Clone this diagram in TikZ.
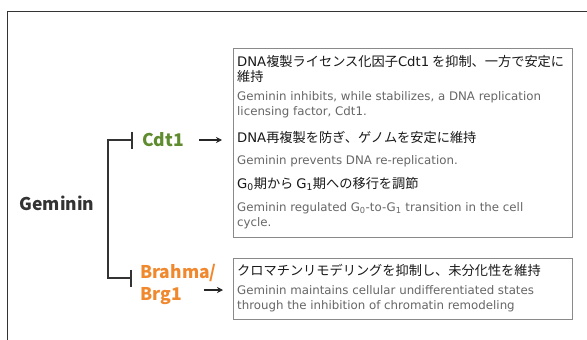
\documentclass[tikz,border=0pt]{standalone}
\usepackage{fontspec}
\setmainfont{Noto Sans CJK JP}
\newfontfamily\enfont{DejaVu Sans}
\usetikzlibrary{arrows.meta,calc}
\definecolor{cdtgreen}{HTML}{5E8C2E}
\definecolor{brorange}{HTML}{F0882E}
\definecolor{boxgray}{HTML}{8A8A8A}
\begin{document}
\begin{tikzpicture}[x=1pt,y=-1pt,
  jp/.style={anchor=west,inner sep=0pt,align=left,text=black!90,font=\fontsize{13.2}{15}\selectfont},
  en/.style={anchor=west,inner sep=0pt,align=left,text=black!60,font=\enfont\fontsize{11.8}{15}\selectfont},
  infobox/.style={draw=boxgray,line width=1.2pt,anchor=north west,minimum width=339pt,inner sep=0pt},
  lbl/.style={inner sep=0pt,font=\bfseries\fontsize{17.5}{22}\selectfont,align=left},
  inhib/.style={draw=black!80,line width=2pt,-{Bar[width=17pt,line width=2pt]}},
  arr/.style={draw=black!85,line width=1.3pt,-{Stealth[length=6pt,width=6pt]}},
  frame/.style={draw=black!80,line width=1pt}]
\useasboundingbox (0,0) rectangle (587,340);
\fill[white] (0,0) rectangle (587,340);
\draw[frame] (7,340) -- (7,11) -- (587,11);

\node[infobox,minimum height=189pt] (box1) at (233,48) {};
\node[infobox,minimum height=61pt] (box2) at (233,258) {};

\node[jp] (j1) at (237,68.5) {{\enfont DNA}複製ライセンス化因子{\enfont Cdt1} を抑制、一方で安定に\\維持};
\node[en] (e1) at (237,104.5) {Geminin inhibits, while stabilizes, a DNA replication\\licensing factor, Cdt1.};
\node[jp] (j2) at (237,138) {{\enfont DNA}再複製を防ぎ、ゲノムを安定に維持};
\node[en] (e2) at (237,161) {Geminin prevents DNA re-replication.};
\node[jp] (j3) at (237,184) {{\enfont G\textsubscript{0}}期から {\enfont G\textsubscript{1}}期への移行を調節};
\node[en] (e3) at (237,216) {Geminin regulated G\textsubscript{0}-to-G\textsubscript{1} transition in the cell\\cycle.};
\node[jp] (j4) at (237,270) {クロマチンリモデリングを抑制し、未分化性を維持};
\node[en] (e4) at (237,298.5) {Geminin maintains cellular undifferentiated states\\through the inhibition of chromatin remodeling};

\node[lbl,text=black!80] (gem) at (57,203) {Geminin};
\node[lbl,anchor=west,text=cdtgreen] (cdt1) at (142,140) {Cdt1};
\node[lbl,anchor=west,text=brorange] (brahma) at (140,284) {Brahma/\\Brg1};

\coordinate (fork) at (108,209);
\draw[inhib,shorten >=9pt] (fork) |- (cdt1.west);
\draw[inhib,shorten >=8pt] (fork) |- ($(brahma.west)+(0,-6)$);

\draw[arr,shorten <=15pt,shorten >=11pt] (cdt1.east) -- (cdt1.east -| box1.west);
\draw[arr,shorten >=10pt] ($(brahma.east)+(-13,6)$) -- ($(brahma.east -| box2.west)+(0,6)$);
\end{tikzpicture}
\end{document}
